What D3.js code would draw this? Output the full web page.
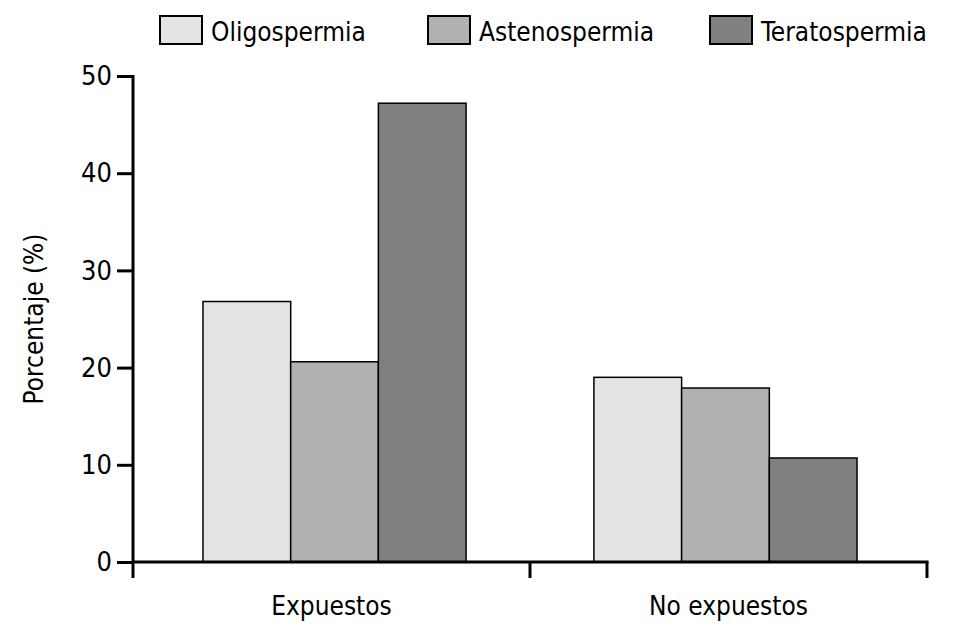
<!DOCTYPE html>
<html>
<head>
<meta charset="utf-8">
<script src="https://cdn.jsdelivr.net/npm/d3@7"></script>
<style>
  body { margin: 0; background: #fff; }
  text { font-family: "Liberation Sans Narrow", "DejaVu Sans Condensed", sans-serif; fill: #000; }
</style>
</head>
<body>
<div id="chart"></div>
<script>
const groups = ["Expuestos", "No expuestos"];
const seriesNames = ["Oligospermia", "Astenospermia", "Teratospermia"];
const seriesColors = ["#e4e4e4", "#b1b1b1", "#808080"];
const oligoValues = [26.8, 19.0];
const astenoValues = [20.6, 17.9];
const teratoValues = [47.2, 10.7];
const yTicks = [0, 10, 20, 30, 40, 50];

const width = 953, height = 632;
const margin = { left: 133, right: 26, top: 76, bottom: 70 };

const svg = d3.select("#chart").append("svg")
    .attr("width", width)
    .attr("height", height);

const values = [oligoValues, astenoValues, teratoValues];
const data = groups.map((g, i) => ({
    group: g,
    bars: seriesNames.map((s, j) => ({ series: s, value: values[j][i], color: seriesColors[j] }))
}));

// group bands
const x0 = d3.scaleBand()
    .domain(groups)
    .range([margin.left, width - margin.right])
    .paddingInner(0.327)
    .paddingOuter(0.179);

// category slots (for labels and tick boundaries)
const xCat = d3.scaleBand()
    .domain(groups)
    .range([margin.left, width - margin.right])
    .padding(0);

const x1 = d3.scaleBand()
    .domain(seriesNames)
    .range([0, x0.bandwidth()])
    .padding(0);

const y = d3.scaleLinear()
    .domain([0, 50])
    .range([height - margin.bottom, margin.top]);

// bars
svg.append("g")
  .selectAll("g")
  .data(data)
  .join("g")
    .attr("transform", d => `translate(${x0(d.group)},0)`)
  .selectAll("rect")
  .data(d => d.bars)
  .join("rect")
    .attr("x", d => x1(d.series))
    .attr("width", x1.bandwidth())
    .attr("y", d => y(d.value))
    .attr("height", d => y(0) - y(d.value))
    .attr("fill", d => d.color)
    .attr("stroke", "#000")
    .attr("stroke-width", 1.5);

// y axis
const yAxis = svg.append("g")
    .attr("transform", `translate(${margin.left},0)`)
    .call(d3.axisLeft(y).tickValues(yTicks).tickSize(16).tickPadding(5).tickSizeOuter(0));
yAxis.select(".domain").remove();
yAxis.append("line")
    .attr("x1", 0).attr("x2", 0)
    .attr("y1", y(50) - 1).attr("y2", y(0) + 16)
    .attr("stroke", "#000").attr("stroke-width", 3);
yAxis.selectAll(".tick line").attr("stroke", "#000").attr("stroke-width", 3);
yAxis.selectAll(".tick text")
    .style("font-size", "27px")
    .style("font-family", "\"Liberation Sans Narrow\", \"DejaVu Sans Condensed\", sans-serif");

// x axis
const xAxis = svg.append("g")
    .attr("transform", `translate(0,${y(0)})`);
xAxis.append("line")
    .attr("x1", margin.left).attr("x2", width - margin.right + 1.5)
    .attr("y1", 0).attr("y2", 0)
    .attr("stroke", "#000").attr("stroke-width", 3);
const boundaries = [xCat(groups[1]), width - margin.right];
xAxis.selectAll("line.tk")
  .data(boundaries)
  .join("line")
    .attr("class", "tk")
    .attr("x1", d => d).attr("x2", d => d)
    .attr("y1", 0).attr("y2", 16)
    .attr("stroke", "#000").attr("stroke-width", 3);
xAxis.selectAll("text")
  .data(groups)
  .join("text")
    .attr("x", d => xCat(d) + xCat.bandwidth() / 2)
    .attr("y", 53)
    .attr("text-anchor", "middle")
    .style("font-size", "26px")
    .text(d => d);

// y label
svg.append("text")
    .attr("transform", `translate(43,${(y(0) + y(50)) / 2}) rotate(-90)`)
    .attr("text-anchor", "middle")
    .style("font-size", "26px")
    .text("Porcentaje (%)");

// legend
const legendX = [160, 428, 710];
const legend = svg.append("g")
  .selectAll("g")
  .data(seriesNames)
  .join("g")
    .attr("transform", (d, i) => `translate(${legendX[i]},16)`);
legend.append("rect")
    .attr("width", 42).attr("height", 28)
    .attr("fill", (d, i) => seriesColors[i])
    .attr("stroke", "#000").attr("stroke-width", 2);
legend.append("text")
    .attr("x", 51).attr("y", 25)
    .style("font-size", "26px")
    .text(d => d);
</script>
</body>
</html>
